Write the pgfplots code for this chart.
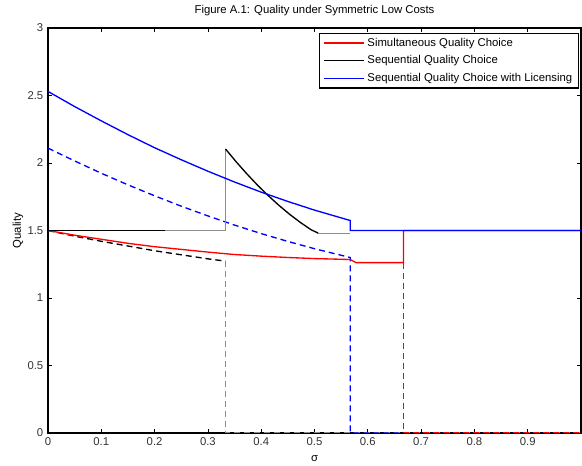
\documentclass[border=0pt]{standalone}
\usepackage{fontspec}
\setmainfont{Liberation Sans}
\usepackage{pgfplots}
\pgfplotsset{compat=1.18}

\definecolor{mred}{rgb}{1,0,0}
\definecolor{mblue}{rgb}{0,0,1}
\colorlet{mgray}{black!45}

\begin{document}
\begin{tikzpicture}
\begin{axis}[
    width=399.75pt, height=303.75pt, scale only axis,
    xmin=0, xmax=1, ymin=0, ymax=3,
    xtick={0,0.1,0.2,0.3,0.4,0.5,0.6,0.7,0.8,0.9,1},
    xticklabels={0,0.1,0.2,0.3,0.4,0.5,0.6,0.7,0.8,0.9,{}},
    ytick={0,0.5,1,1.5,2,2.5,3},
    tick align=inside, major tick length=3pt,
    tick style={black, line width=0.6pt},
    axis line style={line width=0.8pt},
    /pgf/number format/assume math mode=true,
    tick label style={font=\fontsize{8.5}{10}\selectfont, text=black!80},
    xlabel={σ},
    xlabel style={font=\fontsize{8.5}{10}\selectfont, at={(axis description cs:0.5,-0.064)}, anchor=center},
    ylabel={Quality},
    ylabel style={font=\fontsize{8.5}{10}\selectfont, at={(axis description cs:-0.0563,0.5)}, anchor=center},
    legend style={at={(rel axis cs:0.997,0.988)}, anchor=north east,
        draw=black, line width=0.8pt, font=\fontsize{8.5}{10}\selectfont,
        row sep=1.5pt, inner xsep=3pt, inner ysep=1.5pt},
    legend cell align=left,
    legend image code/.code={\draw[#1] (0pt,0pt) -- (30pt,0pt);},
    ln/.style={line width=1pt},
]
\addlegendimage{mred, ln}
\addlegendentry{Simultaneous Quality Choice}
\addlegendimage{black, ln}
\addlegendentry{Sequential Quality Choice}
\addlegendimage{mblue, ln}
\addlegendentry{Sequential Quality Choice with Licensing}

% dashed branches
\addplot[black, ln, dash pattern=on 4.5pt off 3pt, forget plot] coordinates {
    (0,1.5)(0.05,1.458)(0.1,1.42)(0.15,1.385)(0.2,1.35)(0.25,1.32)(0.3,1.29)(0.333,1.273)
};
\addplot[mgray, ln, dash pattern=on 4.5pt off 3pt, forget plot] coordinates {
    (0.333,1.273)(0.333,0)(1,0)
};
\addplot[mblue, ln, dash pattern=on 4.5pt off 3pt, forget plot] coordinates {
    (0,2.11)(0.05,2.015)(0.1,1.924)(0.15,1.838)(0.2,1.757)(0.25,1.68)(0.3,1.608)
    (0.35,1.540)(0.4,1.477)(0.45,1.419)(0.5,1.365)(0.567,1.30)(0.567,0)(1,0)
};
\addplot[mred, ln, dash pattern=on 4.5pt off 3pt, forget plot] coordinates {
    (0.667,1.262)(0.667,0)(1,0)
};

% solid branches
\addplot[mred, ln, forget plot] coordinates {
    (0,1.5)(0.05,1.465)(0.1,1.435)(0.15,1.405)(0.2,1.38)(0.25,1.36)(0.3,1.34)
    (0.35,1.322)(0.4,1.31)(0.45,1.30)(0.5,1.292)(0.567,1.285)(0.578,1.262)
    (0.667,1.262)(0.667,1.5)(1,1.5)
};
\addplot[black, ln, forget plot] coordinates {
    (0,1.5)(0.22,1.5)
};
\addplot[mgray, ln, forget plot] coordinates {
    (0.22,1.5)(0.333,1.5)(0.333,2.104)
};
\addplot[black, ln, forget plot] coordinates {
    (0.333,2.104)(0.353,2.009)(0.373,1.92)(0.393,1.836)(0.413,1.759)(0.433,1.687)
    (0.453,1.621)(0.473,1.561)(0.493,1.507)(0.507,1.48)
};
\addplot[mgray, ln, forget plot] coordinates {
    (0.507,1.48)(0.567,1.48)
};
\addplot[mblue, ln, forget plot] coordinates {
    (0,2.53)(0.05,2.418)(0.1,2.312)(0.15,2.210)(0.2,2.113)(0.25,2.024)(0.3,1.939)
    (0.35,1.859)(0.4,1.784)(0.45,1.715)(0.5,1.651)(0.567,1.574)(0.567,1.5)(1,1.5)
};
\end{axis}
\node[font=\fontsize{8.5}{10}\selectfont] at ([yshift=12.75pt]current axis.north)
    {Figure A.1: Quality under Symmetric Low Costs};
\pgfresetboundingbox
\path[use as bounding box] ([shift={(-36pt,-24.75pt)}]current axis.south west)
    rectangle ([shift={(0.75pt,21pt)}]current axis.north east);
\end{tikzpicture}
\end{document}
